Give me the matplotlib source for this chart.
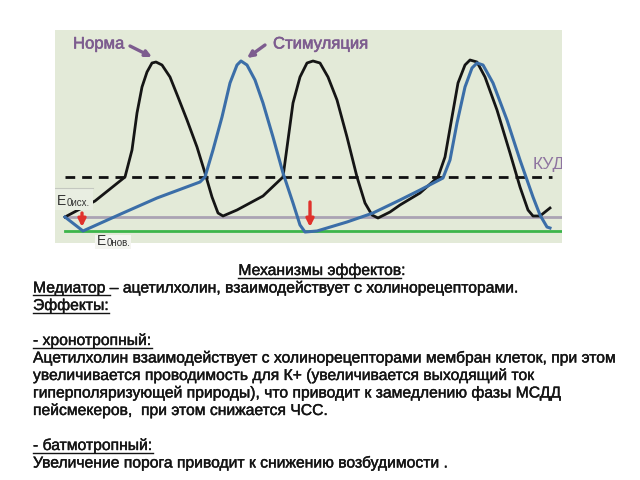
import matplotlib.pyplot as plt
from matplotlib.lines import Line2D
from matplotlib.patches import Rectangle
import matplotlib.patheffects as pe

plt.rcParams['font.family'] = ['Liberation Sans', 'DejaVu Sans']

# time (ms) and membrane potential (mV)
norm_t = [0, 30, 60, 67, 72, 77, 82, 87, 91, 97, 105, 113, 122, 132, 140, 147, 153, 158,
          172, 185, 198, 218, 223, 228, 235, 242, 248, 255, 263, 272, 282, 292, 300, 307, 313,
          325, 335, 355, 373, 380, 387, 393, 400, 405, 412, 420, 432, 445, 455, 463, 468, 475, 485]
norm_v = [-60, -52, -40, -26.5, -8, 5, 12.5, 17, 17.5, 16, 10, 0, -11.5, -25, -38, -50, -58, -59.5,
          -56.5, -53, -49.5, -40, -21.5, -3, 10, 17, 18, 17, 10, -1.5, -20, -40, -53, -59, -60.5,
          -57.5, -54, -48, -40, -30, -10, 7, 16, 18.5, 17.5, 10, -6.5, -28, -45, -56.5, -59.5, -59.5, -55.5]

stim_t = [0, 18, 58, 92, 135, 140, 148, 157, 165, 172, 176, 182, 190, 198, 208, 218, 228, 235, 240,
          252, 282, 308, 335, 355, 378, 385, 392, 400, 407, 412, 418, 428, 442, 455, 468, 475, 482, 485]
stim_v = [-60, -67, -58, -50.5, -42.5, -40, -26.5, -10, 7, 16, 18, 16, 8.5, -3, -20, -38, -53, -64, -67.5,
          -67, -62.5, -58, -51.5, -46.5, -40.5, -31.5, -13, 5, 14.5, 17, 16, 7, -11.5, -31.5, -50, -59, -65, -65.5]

e0_old = -60   # исходный потенциал покоя
e0_new = -67   # новый (гиперполяризация)
kud = -40      # критический уровень деполяризации
arrow_t = [17, 245]
arrow_top = [-58, -52.5]

text_lines = [
    "Механизмы эффектов:",
    "Медиатор – ацетилхолин, взаимодействует с холинорецепторами.",
    "Эффекты:",
    "",
    "- хронотропный:",
    "Ацетилхолин взаимодействует с холинорецепторами мембран клеток, при этом",
    "увеличивается проводимость для К+ (увеличивается выходящий ток",
    "гиперполяризующей природы), что приводит к замедлению фазы МСДД",
    "пейсмекеров,  при этом снижается ЧСС.",
    "",
    "- батмотропный:",
    "Увеличение порога приводит к снижению возбудимости .",
]
underlined = {0: "Механизмы эффектов", 1: "Медиатор ", 2: "Эффекты:",
              4: "- хронотропный:", 10: "- батмотропный:"}

W, H = 640, 480
fig = plt.figure(figsize=(6.4, 4.8), dpi=100)
fig.patch.set_facecolor('white')

ax = fig.add_axes([55 / W, 1 - 243 / H, 507 / W, 213 / H])
ax.set_facecolor('#e3ead8')
ax.set_xlim(-10, 497)
ax.set_ylim(-73, 33.5)
ax.set_xticks([])
ax.set_yticks([])
for s in ax.spines.values():
    s.set_visible(False)

ax.plot([0, 497], [e0_old, e0_old], color='#aaa3b3', lw=2, zorder=1)
ax.plot([0, 497], [e0_new, e0_new], color='#3cb54a', lw=2, zorder=1)
ax.plot([0, 487], [kud, kud], color='#111111', lw=2, ls=(0, (3.5, 2.5)), zorder=2)

ax.plot(norm_t, norm_v, color='#151515', lw=2, zorder=3, solid_joinstyle='round')
ax.plot(stim_t, stim_v, color='#3b6ea8', lw=2.2, zorder=4, solid_joinstyle='round')

for t, v in zip(arrow_t, arrow_top):
    ax.annotate('', xy=(t, -65), xytext=(t, v),
                arrowprops=dict(arrowstyle='-|>', color='#e0312b', lw=2.4,
                                mutation_scale=11, shrinkA=0, shrinkB=0), zorder=5)

purple = '#7d5c8f'
bold_fx = [pe.withStroke(linewidth=0.4, foreground=purple)]
ax.text(8, 26.5, "Норма", color=purple, fontsize=12, va='center', ha='left',
        path_effects=bold_fx)
ax.annotate('', xy=(87, 20), xytext=(65, 25.5),
            arrowprops=dict(arrowstyle='-|>', color=purple, lw=2.4, mutation_scale=9,
                            shrinkA=0, shrinkB=0))
ax.text(208, 26.5, "Стимуляция", color=purple, fontsize=12, va='center', ha='left',
        path_effects=bold_fx)
ax.annotate('', xy=(182, 19.5), xytext=(200, 26),
            arrowprops=dict(arrowstyle='-|>', color=purple, lw=2.4, mutation_scale=9,
                            shrinkA=0, shrinkB=0))
ax.text(468, -34, "КУД", color='#8e74a0', fontsize=12.5, va='center', ha='left', clip_on=True)

# E0 labels
ax.add_patch(Rectangle((-10, -56.5), 38, 11, facecolor='#e9eee2', edgecolor='none', zorder=5))
ax.plot([-10, 28], [-45.5, -45.5], color='#c4c8c0', lw=0.8, zorder=6)
ax.text(-8, -52, "E", color='#333333', fontsize=10, va='center', ha='left', zorder=6)
ax.text(2, -53, "0исх.", color='#333333', fontsize=7, va='center', ha='left', zorder=6)
ax.add_patch(Rectangle((30, -76), 36, 7, facecolor='#f4f5f0', edgecolor='none', zorder=5,
                       clip_on=False))
ax.text(32, -72, "E", color='#333333', fontsize=10, va='center', ha='left', zorder=6,
        clip_on=False)
ax.text(42, -73, "0нов.", color='#333333', fontsize=7, va='center', ha='left', zorder=6,
        clip_on=False)

# text block under the picture
fs = 11.3
ink = '#141414'
text_fx = [pe.withStroke(linewidth=0.3, foreground=ink)]
x0 = 33
y0 = 275
step = 17.5
txts = {}
for i, line in enumerate(text_lines):
    if not line:
        continue
    yb = 1 - (y0 + step * i) / H
    if i == 0:
        txts[i] = fig.text(322 / W, yb, line, fontsize=fs, ha='center', va='baseline',
                           color=ink, path_effects=text_fx)
    else:
        txts[i] = fig.text(x0 / W, yb, line, fontsize=fs, ha='left', va='baseline',
                           color=ink, path_effects=text_fx)

fig.canvas.draw()
r = fig.canvas.get_renderer()
for i, sub in underlined.items():
    full = txts[i]
    bb = full.get_window_extent(r)
    tmp = fig.text(0, 0, sub, fontsize=fs)
    w = tmp.get_window_extent(r).width
    tmp.remove()
    yb = (1 - (y0 + step * i) / H) * H - 2.5
    fig.add_artist(Line2D([bb.x0 / W, (bb.x0 + w) / W], [yb / H, yb / H],
                          transform=fig.transFigure, color=ink, lw=1))

fig.savefig('out.png', dpi=100)
